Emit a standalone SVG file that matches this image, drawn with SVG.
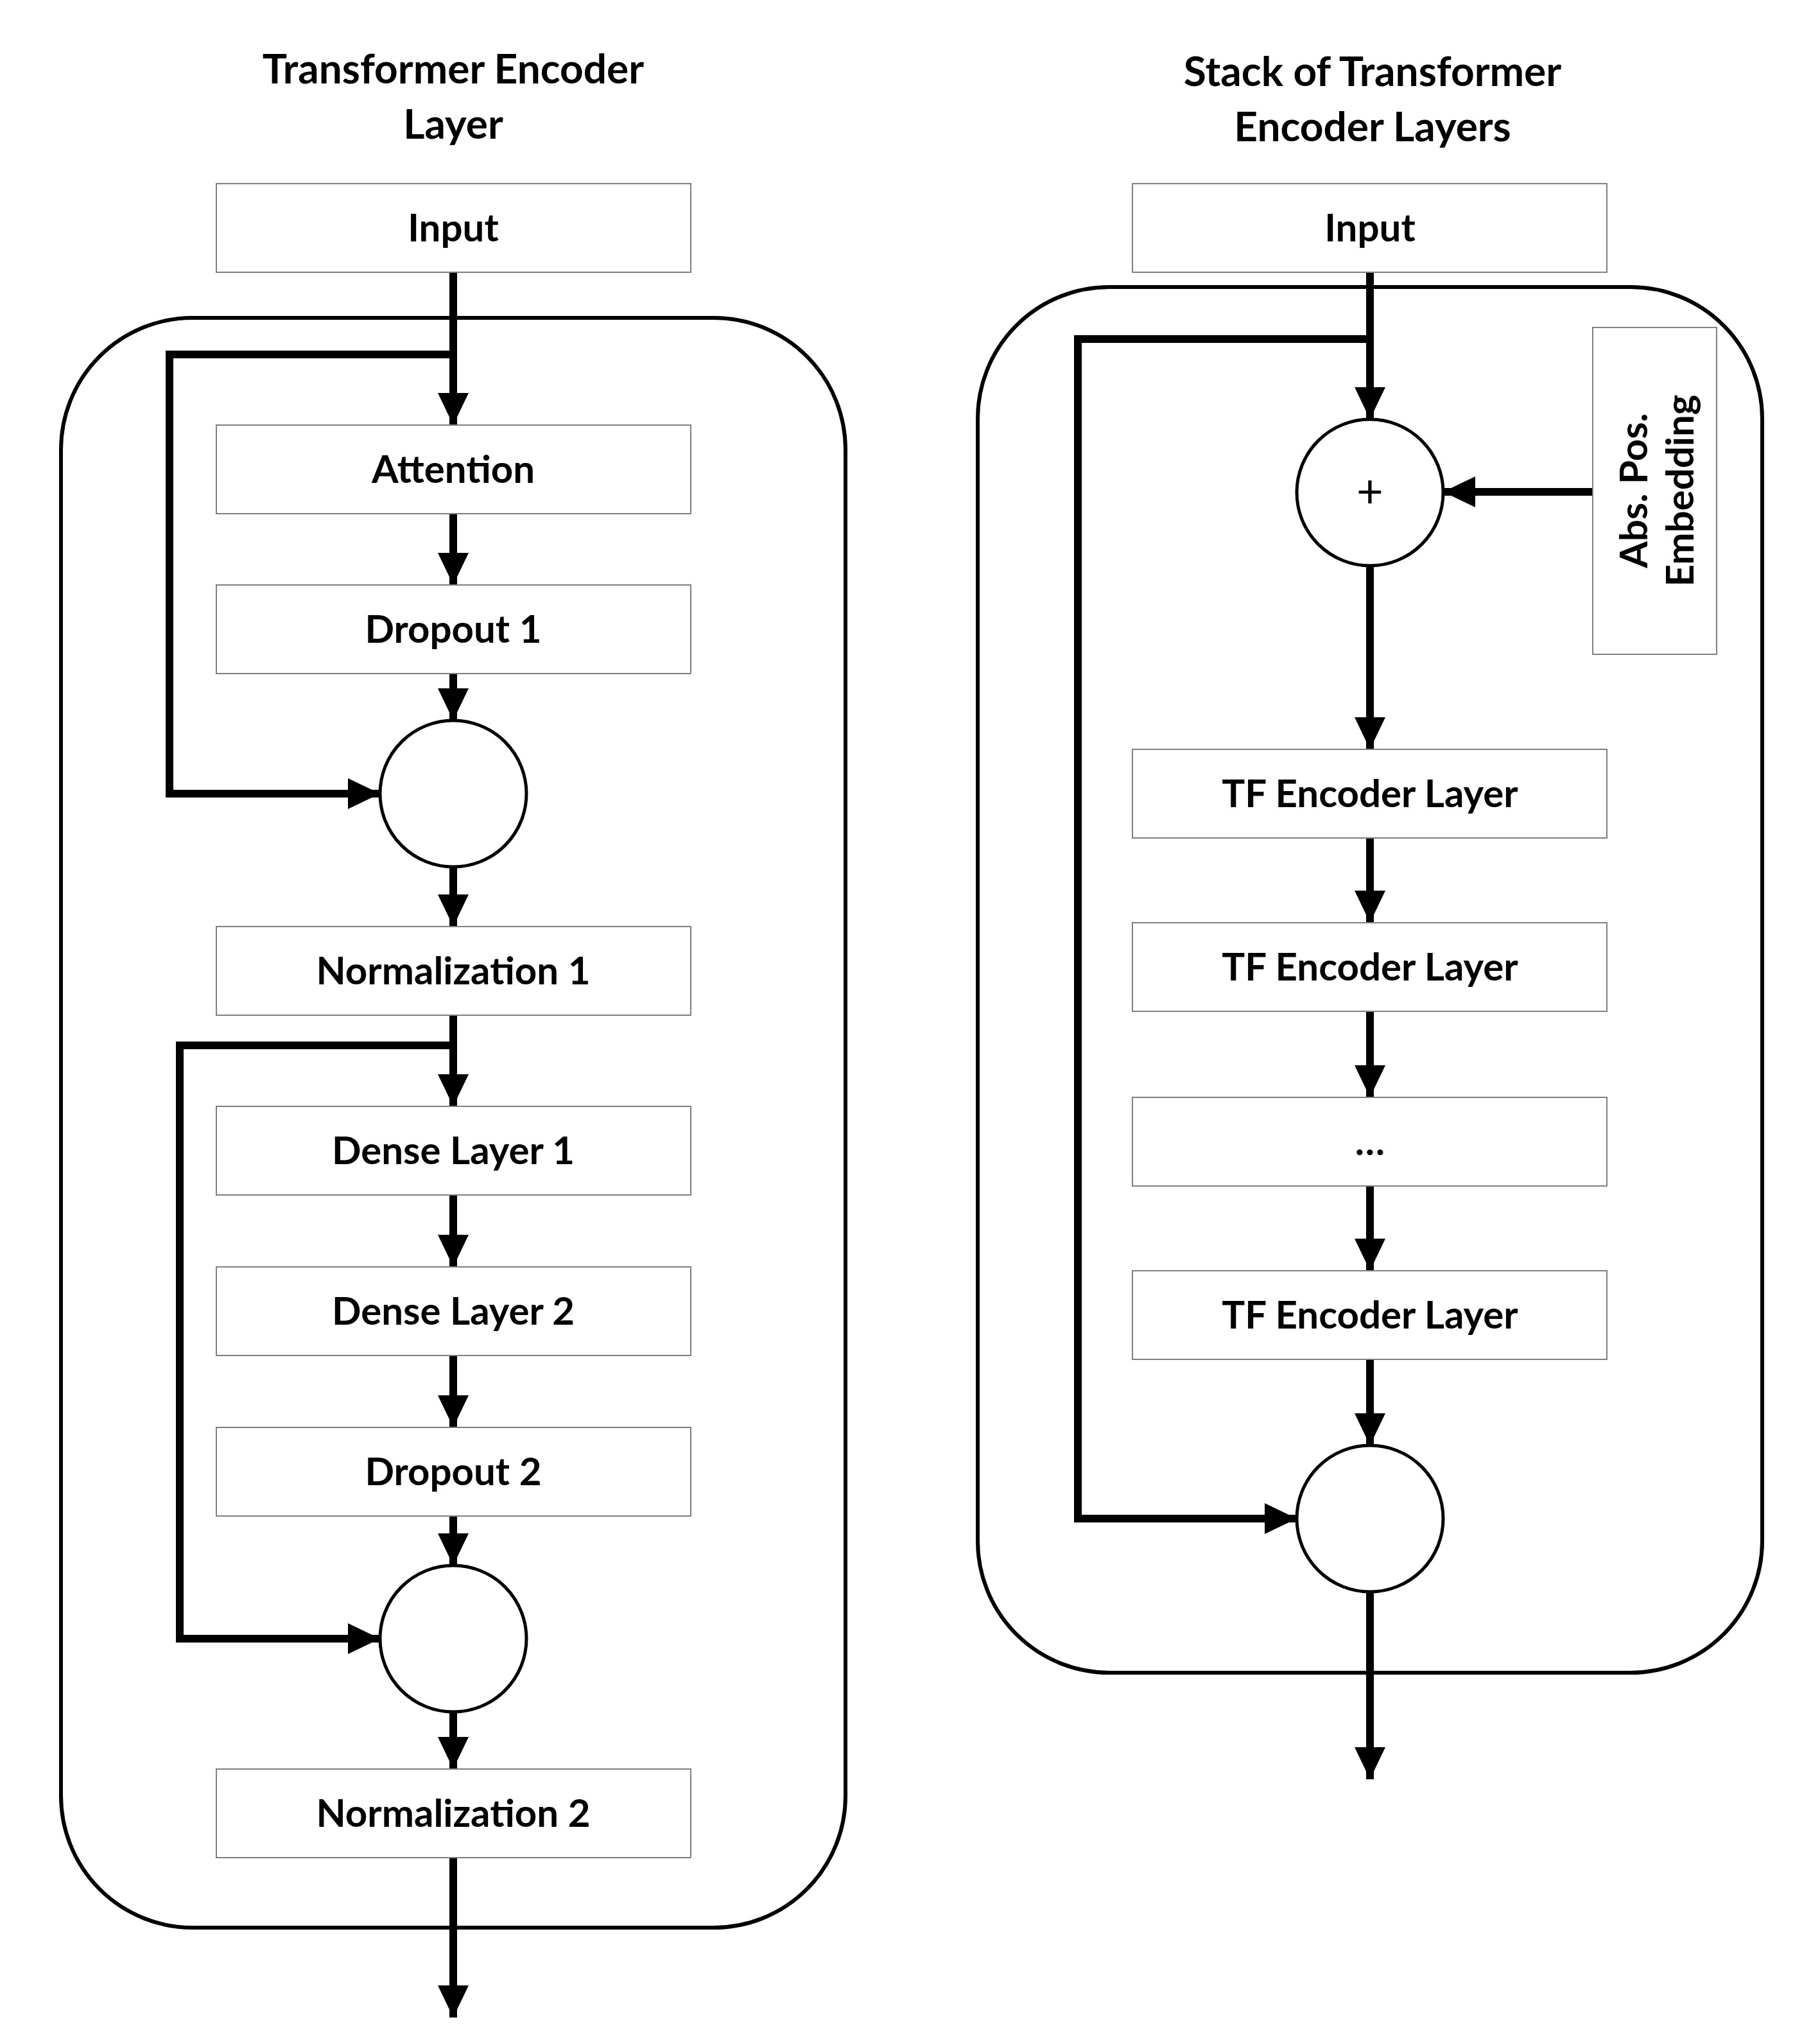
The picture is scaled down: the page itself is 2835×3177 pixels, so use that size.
<svg xmlns="http://www.w3.org/2000/svg" width="2835" height="3177" viewBox="0 0 2835 3177">
<style>
.box{fill:#fff;stroke:#7f7f7f;stroke-width:2}
.ct{fill:none;stroke:#000;stroke-width:6}
.c{fill:#fff;stroke:#000;stroke-width:5}
.t{font-family:Lato,"Open Sans",sans-serif;font-weight:bold;font-size:60px;text-anchor:middle;fill:#000}
.h{font-family:Lato,"Open Sans",sans-serif;font-weight:bold;font-size:64px;text-anchor:middle;fill:#000}
.l{fill:none;stroke:#000;stroke-width:12;marker-end:url(#a)}
.n{fill:none;stroke:#000;stroke-width:12}
</style>
<defs><marker id="a" markerUnits="userSpaceOnUse" markerWidth="52" markerHeight="50" refX="50" refY="24" orient="auto"><path d="M0,0 L50,24 L0,48 Z" fill="#000"/></marker></defs>
<rect x="0" y="0" width="2835" height="3177" fill="#fff"/>
<text class="h" x="706" y="130">Transformer Encoder</text>
<text class="h" x="706" y="216">Layer</text>
<text class="h" x="2138" y="134">Stack of Transformer</text>
<text class="h" x="2138" y="220">Encoder Layers</text>
<rect class="ct" x="95" y="495" width="1222" height="2507" rx="205"/>
<rect class="ct" x="1523" y="447" width="1222" height="2158" rx="205"/>
<g id="connectors">
<path class="l" d="M706,424 V662"/>
<path class="l" d="M706,552 H264 V1236 H592"/>
<path class="l" d="M706,800 V911"/>
<path class="l" d="M706,1049 V1122"/>
<path class="l" d="M706,1350 V1443"/>
<path class="l" d="M706,1581 V1723"/>
<path class="l" d="M706,1628 H280 V2552 H592"/>
<path class="l" d="M706,1861 V1973"/>
<path class="l" d="M706,2111 V2223"/>
<path class="l" d="M706,2361 V2438"/>
<path class="l" d="M706,2666 V2755"/>
<path class="l" d="M706,2893 V3142"/>
<path class="l" d="M2134,424 V653"/>
<path class="l" d="M2134,528 H1679 V2365 H2020"/>
<path class="l" d="M2481,766 H2248"/>
<path class="l" d="M2134,881 V1167"/>
<path class="l" d="M2134,1305 V1437"/>
<path class="l" d="M2134,1575 V1709"/>
<path class="l" d="M2134,1847 V1979"/>
<path class="l" d="M2134,2117 V2251"/>
<path class="l" d="M2134,2479 V2771"/>
</g>
<g id="in1"><rect class="box" x="337" y="286" width="739" height="138"/><text class="t" x="706" y="376">Input</text></g>
<g id="att"><rect class="box" x="337" y="662" width="739" height="138"/><text class="t" x="706" y="752">Attention</text></g>
<g id="do1"><rect class="box" x="337" y="911" width="739" height="138"/><text class="t" x="706" y="1001">Dropout 1</text></g>
<g id="add1"><circle class="c" cx="706" cy="1236" r="114"/></g>
<g id="n1"><rect class="box" x="337" y="1443" width="739" height="138"/><text class="t" x="706" y="1533">Normalization 1</text></g>
<g id="d1"><rect class="box" x="337" y="1723" width="739" height="138"/><text class="t" x="706" y="1813">Dense Layer 1</text></g>
<g id="d2"><rect class="box" x="337" y="1973" width="739" height="138"/><text class="t" x="706" y="2063">Dense Layer 2</text></g>
<g id="do2"><rect class="box" x="337" y="2223" width="739" height="138"/><text class="t" x="706" y="2313">Dropout 2</text></g>
<g id="add2"><circle class="c" cx="706" cy="2552" r="114"/></g>
<g id="n2"><rect class="box" x="337" y="2755" width="739" height="138"/><text class="t" x="706" y="2845">Normalization 2</text></g>
<g id="in2"><rect class="box" x="1764" y="286" width="739" height="138"/><text class="t" x="2134" y="376">Input</text></g>
<g id="plus"><circle class="c" cx="2134" cy="767" r="114"/><text class="t" x="2134" y="790" style="font-weight:normal;font-size:72px">+</text></g>
<g id="abs"><rect class="box" x="2481" y="510" width="193" height="509"/><text class="t" transform="translate(2566,764) rotate(-90)" y="0">Abs. Pos.</text><text class="t" transform="translate(2638,764) rotate(-90)" y="0">Embedding</text></g>
<g id="tf1"><rect class="box" x="1764" y="1167" width="739" height="138"/><text class="t" x="2134" y="1257">TF Encoder Layer</text></g>
<g id="tf2"><rect class="box" x="1764" y="1437" width="739" height="138"/><text class="t" x="2134" y="1527">TF Encoder Layer</text></g>
<g id="dots"><rect class="box" x="1764" y="1709" width="739" height="138"/><text class="t" x="2134" y="1799">…</text></g>
<g id="tf3"><rect class="box" x="1764" y="1979" width="739" height="138"/><text class="t" x="2134" y="2069">TF Encoder Layer</text></g>
<g id="add3"><circle class="c" cx="2134" cy="2365" r="114"/></g>
</svg>
